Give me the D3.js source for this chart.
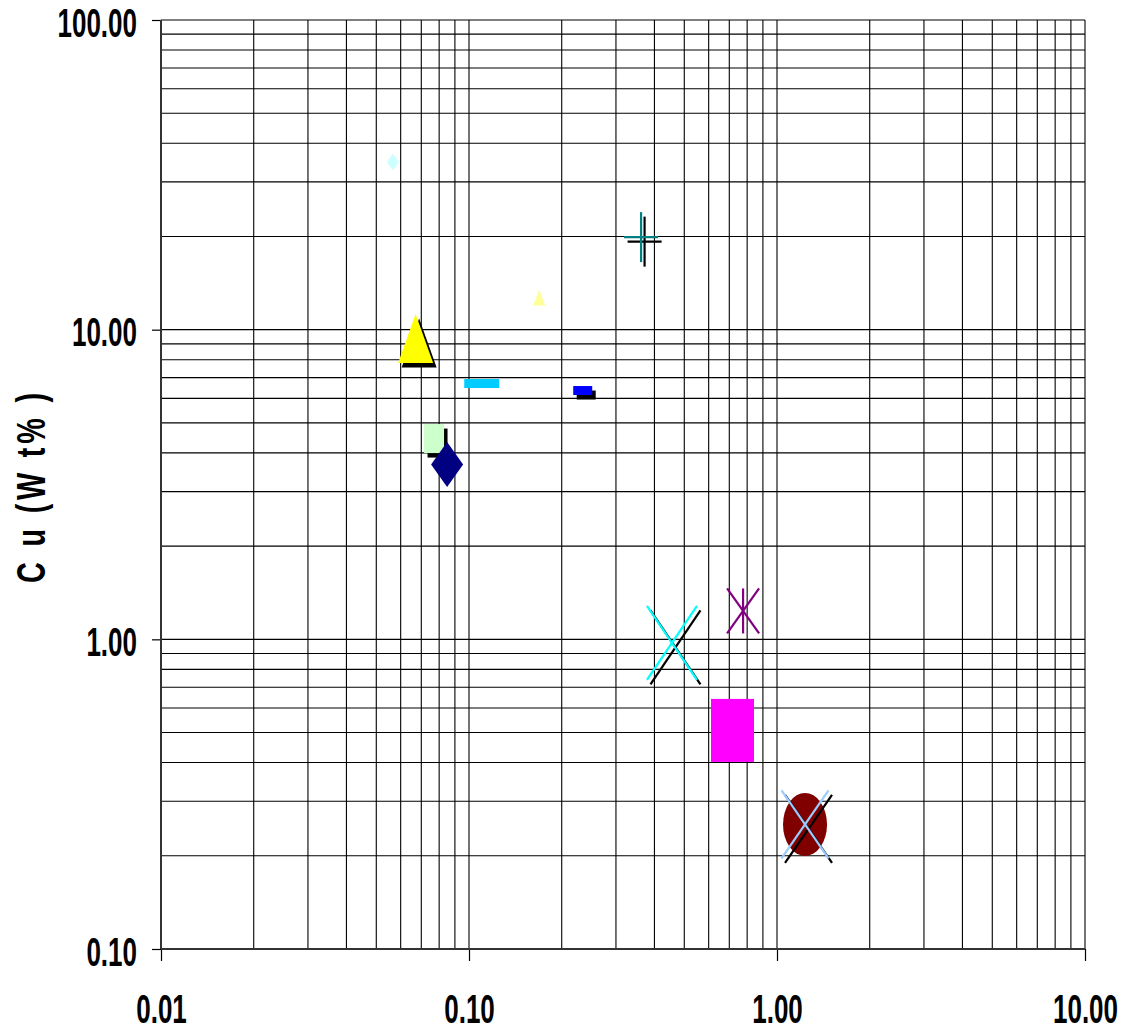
<!DOCTYPE html>
<html>
<head>
<meta charset="utf-8">
<script src="https://cdn.jsdelivr.net/npm/d3@7"></script>
<style>
  body { margin: 0; background: #fff; }
  svg { display: block; }
</style>
</head>
<body>
<svg id="chart" width="1124" height="1030"></svg>
<script>
// sample values (x axis has no title in the original)
const xValues  = [0.0566, 0.169, 0.0671, 0.110, 0.234, 0.0770, 0.0849, 0.362, 0.456, 0.776, 0.717, 1.233, 1.233];
const cuValues = [34.8, 12.7, 9.37, 6.70, 6.36, 4.45, 3.67, 19.9, 0.974, 1.235, 0.508, 0.2525, 0.2525];

const xTickValues = [0.01, 0.1, 1, 10];
const yTickValues = [0.1, 1, 10, 100];
const yTitle = 'C u  (W t% )';

// marker look for each series, same order as values
const markers = [
  { shape: 'diamond',  fill: '#ccffff', w: 12, h: 17, shadow: false },
  { shape: 'triangle', fill: '#ffff99', w: 12, h: 16, shadow: false },
  { shape: 'triangle', fill: '#ffff00', w: 35, h: 49, shadow: true },
  { shape: 'rect',     fill: '#00ccff', w: 35, h: 9,  shadow: false },
  { shape: 'rect',     fill: '#0000ff', w: 19, h: 9,  shadow: true },
  { shape: 'rect',     fill: '#ccffcc', w: 20, h: 29, shadow: true },
  { shape: 'diamond',  fill: '#000080', w: 32, h: 45, shadow: false },
  { shape: 'plus',     fill: '#008080', w: 34, h: 50, shadow: true },
  { shape: 'x',        fill: '#00ffff', w: 50, h: 74, shadow: true },
  { shape: 'star',     fill: '#800080', w: 32, h: 45, shadow: false },
  { shape: 'rect',     fill: '#ff00ff', w: 43, h: 63, shadow: false },
  { shape: 'ellipse',  fill: '#800000', w: 44, h: 63, shadow: false },
  { shape: 'x',        fill: '#99ccff', w: 47, h: 68, shadow: true }
];

const svg = d3.select('#chart');
const plotL = 161, plotR = 1085, plotT = 20, plotB = 949;

const x = d3.scaleLog().domain([0.01, 10]).range([plotL, plotR]);
const y = d3.scaleLog().domain([0.1, 100]).range([plotB, plotT]);

// grid
const grid = svg.append('g').attr('stroke', '#000').attr('stroke-width', 1.1);
grid.selectAll('line.v').data(x.ticks()).enter().append('line')
  .attr('x1', d => x(d)).attr('x2', d => x(d))
  .attr('y1', plotT).attr('y2', plotB);
grid.selectAll('line.h').data(y.ticks()).enter().append('line')
  .attr('x1', plotL).attr('x2', plotR)
  .attr('y1', d => y(d)).attr('y2', d => y(d));

// axes
const fmt = d3.format('.2f');
const gx = svg.append('g')
  .attr('transform', `translate(0,${plotB})`)
  .call(d3.axisBottom(x).tickValues(xTickValues).tickSize(12).tickFormat(fmt));
const gy = svg.append('g')
  .attr('transform', `translate(${plotL},0)`)
  .call(d3.axisLeft(y).tickValues(yTickValues).tickSize(9).tickFormat(fmt));

[gx, gy].forEach(g => {
  g.attr('font-family', '"Liberation Sans", Arial, sans-serif')
   .attr('font-size', 40).attr('font-weight', 'bold');
  g.select('.domain').remove();
  g.selectAll('.tick line').attr('stroke', '#000').attr('stroke-width', 1.2);
  g.selectAll('.tick text').attr('fill', '#000');
});
gx.selectAll('.tick text').attr('y', 0).attr('dy', 0)
  .attr('transform', 'translate(0,74) scale(0.65,1)');
gy.selectAll('.tick text').attr('x', 0).attr('dy', 0)
  .attr('transform', 'translate(-24,16) scale(0.65,1)');

svg.append('line').attr('x1', plotL).attr('x2', plotL).attr('y1', plotT).attr('y2', plotB)
  .attr('stroke', '#333').attr('stroke-width', 2);
svg.append('line').attr('x1', plotL).attr('x2', plotR).attr('y1', plotB).attr('y2', plotB)
  .attr('stroke', '#333').attr('stroke-width', 2);

// y title
svg.append('text')
  .attr('transform', 'translate(45,488) rotate(-90) scale(0.72,1)')
  .attr('text-anchor', 'middle')
  .attr('font-family', '"Liberation Sans", Arial, sans-serif')
  .attr('font-size', 40).attr('font-weight', 'bold')
  .attr('textLength', 190 / 0.72).attr('lengthAdjust', 'spacing')
  .text(yTitle);

// markers
function drawMarker(g, m, color) {
  const w = m.w, h = m.h;
  if (m.shape === 'diamond') {
    g.append('polygon').attr('points', `0,${-h/2} ${w/2},0 0,${h/2} ${-w/2},0`).attr('fill', color);
  } else if (m.shape === 'triangle') {
    g.append('polygon').attr('points', `0,${-h/2} ${w/2},${h/2} ${-w/2},${h/2}`).attr('fill', color);
  } else if (m.shape === 'rect') {
    g.append('rect').attr('x', -w/2).attr('y', -h/2).attr('width', w).attr('height', h).attr('fill', color);
  } else if (m.shape === 'ellipse') {
    g.append('ellipse').attr('rx', w/2).attr('ry', h/2).attr('fill', color);
  } else {
    const lines = [];
    if (m.shape === 'plus' || m.shape === 'star') lines.push([0, -h/2, 0, h/2]);
    if (m.shape === 'plus') lines.push([-w/2, 0, w/2, 0]);
    if (m.shape === 'x' || m.shape === 'star') {
      lines.push([-w/2, -h/2, w/2, h/2]);
      lines.push([-w/2, h/2, w/2, -h/2]);
    }
    lines.forEach(l => g.append('line')
      .attr('x1', l[0]).attr('y1', l[1]).attr('x2', l[2]).attr('y2', l[3])
      .attr('stroke', color).attr('stroke-width', 2.2));
  }
}

const pts = svg.append('g');
xValues.forEach((xv, i) => {
  const m = markers[i];
  const cx = x(xv), cy = y(cuValues[i]);
  if (m.shadow) {
    drawMarker(pts.append('g').attr('transform', `translate(${cx + 3.5},${cy + 4.5})`), m, '#000');
  }
  drawMarker(pts.append('g').attr('transform', `translate(${cx},${cy})`), m, m.fill);
});
</script>
</body>
</html>
